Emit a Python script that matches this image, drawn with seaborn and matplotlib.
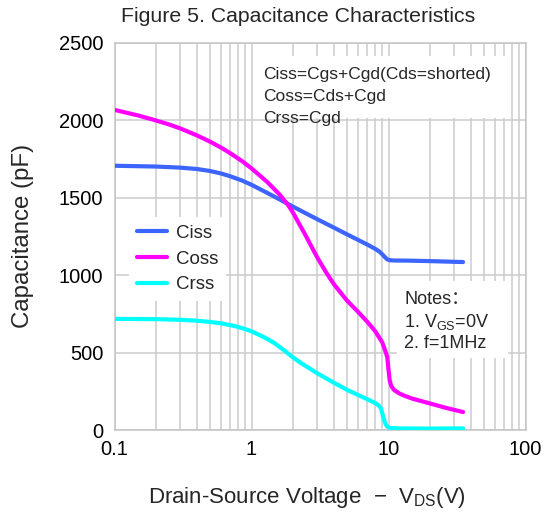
import pandas as pd
import matplotlib
matplotlib.use("Agg")
import matplotlib.pyplot as plt
import seaborn as sns
from matplotlib.patches import Rectangle
from matplotlib.ticker import LogLocator, FixedLocator, NullFormatter

# ==========================
# Data
# ==========================

ciss_v = [0.1, 0.2, 0.3, 0.4, 0.5, 0.6, 0.7, 0.85, 1, 1.3, 1.6, 2, 2.5, 3, 4, 5,
          6, 7, 8, 8.6, 9, 9.5, 9.8, 10.2, 11, 14, 20, 35]
ciss_c = [1707, 1702, 1695, 1686, 1673, 1657, 1639, 1612, 1584, 1532, 1490, 1444, 1399,
          1363, 1307, 1263, 1228, 1198, 1170, 1152, 1135, 1113, 1102, 1097, 1095, 1094,
          1091, 1085]

coss_v = [0.1, 0.15, 0.2, 0.25, 0.3, 0.4, 0.5, 0.6, 0.7, 0.85, 1, 1.3, 1.6, 1.86, 2,
          2.5, 3, 3.5, 4, 5, 6, 7, 8, 9, 9.5, 9.8, 10, 10.2, 10.5, 11, 12, 13, 15, 20,
          26, 35]
coss_c = [2068, 2031, 2000, 1974, 1949, 1903, 1862, 1824, 1788, 1738, 1690, 1603, 1522,
          1450, 1407, 1252, 1119, 1019, 941, 834, 763, 699, 638, 566, 508, 470, 390,
          320, 282, 258, 236, 222, 202, 172, 144, 116]

crss_v = [0.1, 0.2, 0.3, 0.4, 0.5, 0.6, 0.75, 0.9, 1, 1.2, 1.45, 1.7, 2, 2.3, 2.6, 3,
          3.5, 4, 5, 6, 7, 8, 8.5, 8.8, 9, 9.2, 9.5, 9.8, 10.2, 12, 20, 35]
crss_c = [718, 716, 712, 706, 698, 689, 672, 652, 637, 605, 565, 520, 470, 432, 403, 368,
          334, 305, 259, 226, 199, 174, 158, 140, 108, 75, 40, 22, 14, 10, 9, 10]

series_names = ["Ciss", "Coss", "Crss"]
series_colors = ["#3c64ff", "#ff00ff", "#00ffff"]

x_ticks = [0.1, 1, 10, 100]
x_tick_labels = ["0.1", "1", "10", "100"]
y_ticks = [0, 500, 1000, 1500, 2000, 2500]

formula_lines = ["Ciss=Cgs+Cgd(Cds=shorted)", "Coss=Cds+Cgd", "Crss=Cgd"]
note_lines = ["Notes\uff1a", "1. V$\\mathregular{_{GS}}$=0V", "2. f=1MHz"]

# ==========================
# Long-form table
# ==========================

df = pd.concat([
    pd.DataFrame({"V": ciss_v, "C": ciss_c, "Series": "Ciss"}),
    pd.DataFrame({"V": coss_v, "C": coss_c, "Series": "Coss"}),
    pd.DataFrame({"V": crss_v, "C": crss_c, "Series": "Crss"}),
])

# ==========================
# Style
# ==========================

sns.set_style("white", {
    "axes.edgecolor": "#c4c4c4",
    "grid.color": "#cccccc",
})
plt.rcParams["font.family"] = ["Liberation Sans", "Noto Sans CJK SC", "DejaVu Sans"]
plt.rcParams["mathtext.fontset"] = "custom"
plt.rcParams["mathtext.rm"] = "Liberation Sans"

W, H = 545, 528
fig = plt.figure(figsize=(W / 100, H / 100), dpi=100)
ax = fig.add_axes([114.5 / W, 1 - 430 / H, 411 / W, 387 / H])

sns.lineplot(
    data=df, x="V", y="C", hue="Series",
    hue_order=series_names,
    palette=dict(zip(series_names, series_colors)),
    linewidth=3, sort=False, estimator=None, ax=ax, zorder=5,
)

ax.set_xscale("log")
ax.set_xlim(0.1, 100)
ax.set_ylim(0, 2500)
ax.xaxis.set_major_locator(FixedLocator(x_ticks))
ax.set_xticklabels(x_tick_labels)
ax.xaxis.set_minor_locator(LogLocator(base=10, subs=range(2, 10)))
ax.xaxis.set_minor_formatter(NullFormatter())
ax.set_yticks(y_ticks)
ax.tick_params(axis="both", which="both", length=0, labelsize=14.5, colors="black")
ax.tick_params(axis="x", pad=7)
ax.tick_params(axis="y", pad=8)
ax.grid(axis="x", which="both", color="#cccccc", linewidth=1.1)
ax.grid(axis="y", which="major", color="#cccccc", linewidth=1.1)
ax.set_xlabel("")
ax.set_ylabel("")
for s in ax.spines.values():
    s.set_linewidth(1.1)


def to_ax(px, py):
    return (px - 114.5) / 411, (430 - py) / 387


# white boxes behind the text blocks
for (x0, y0, x1, y1) in [(255, 56, 506, 118), (397, 281, 508, 358)]:
    ax0, ay1 = to_ax(x0, y0)
    ax1, ay0 = to_ax(x1, y1)
    ax.add_patch(Rectangle((ax0, ay0), ax1 - ax0, ay1 - ay0, transform=ax.transAxes,
                           facecolor="white", edgecolor="none", zorder=3))

for i, line in enumerate(formula_lines):
    tx, ty = to_ax(263, 75 + i * 21.5)
    ax.text(tx, ty, line, transform=ax.transAxes, fontsize=12.5, va="center",
            ha="left", zorder=4)

for i, line in enumerate(note_lines):
    tx, ty = to_ax(404, 300 + i * 21.7)
    ax.text(tx, ty, line, transform=ax.transAxes, fontsize=13, va="center",
            ha="left", zorder=4)

leg = ax.legend(
    loc="upper left", bbox_to_anchor=to_ax(120, 208), fontsize=13.5,
    handlelength=1.6, handletextpad=0.5, labelspacing=0.45,
    frameon=True, facecolor="white", edgecolor="none", framealpha=1,
    borderpad=0.4, title=None,
)
leg.get_frame().set_boxstyle("square", pad=0)
leg.set_zorder(6)

fig.text(298 / W, 1 - 17 / H, "Figure 5. Capacitance Characteristics",
         fontsize=15.3, ha="center", va="center")
fig.text(23 / W, 1 - 236 / H, "Capacitance (pF)", fontsize=17.3, rotation=90,
         ha="center", va="center")
fig.text(307 / W, 1 - 497 / H,
         "Drain-Source Voltage  \u2212  V$\\mathregular{_{DS}}$(V)",
         fontsize=16, ha="center", va="center")

fig.savefig("out.png", dpi=100)
